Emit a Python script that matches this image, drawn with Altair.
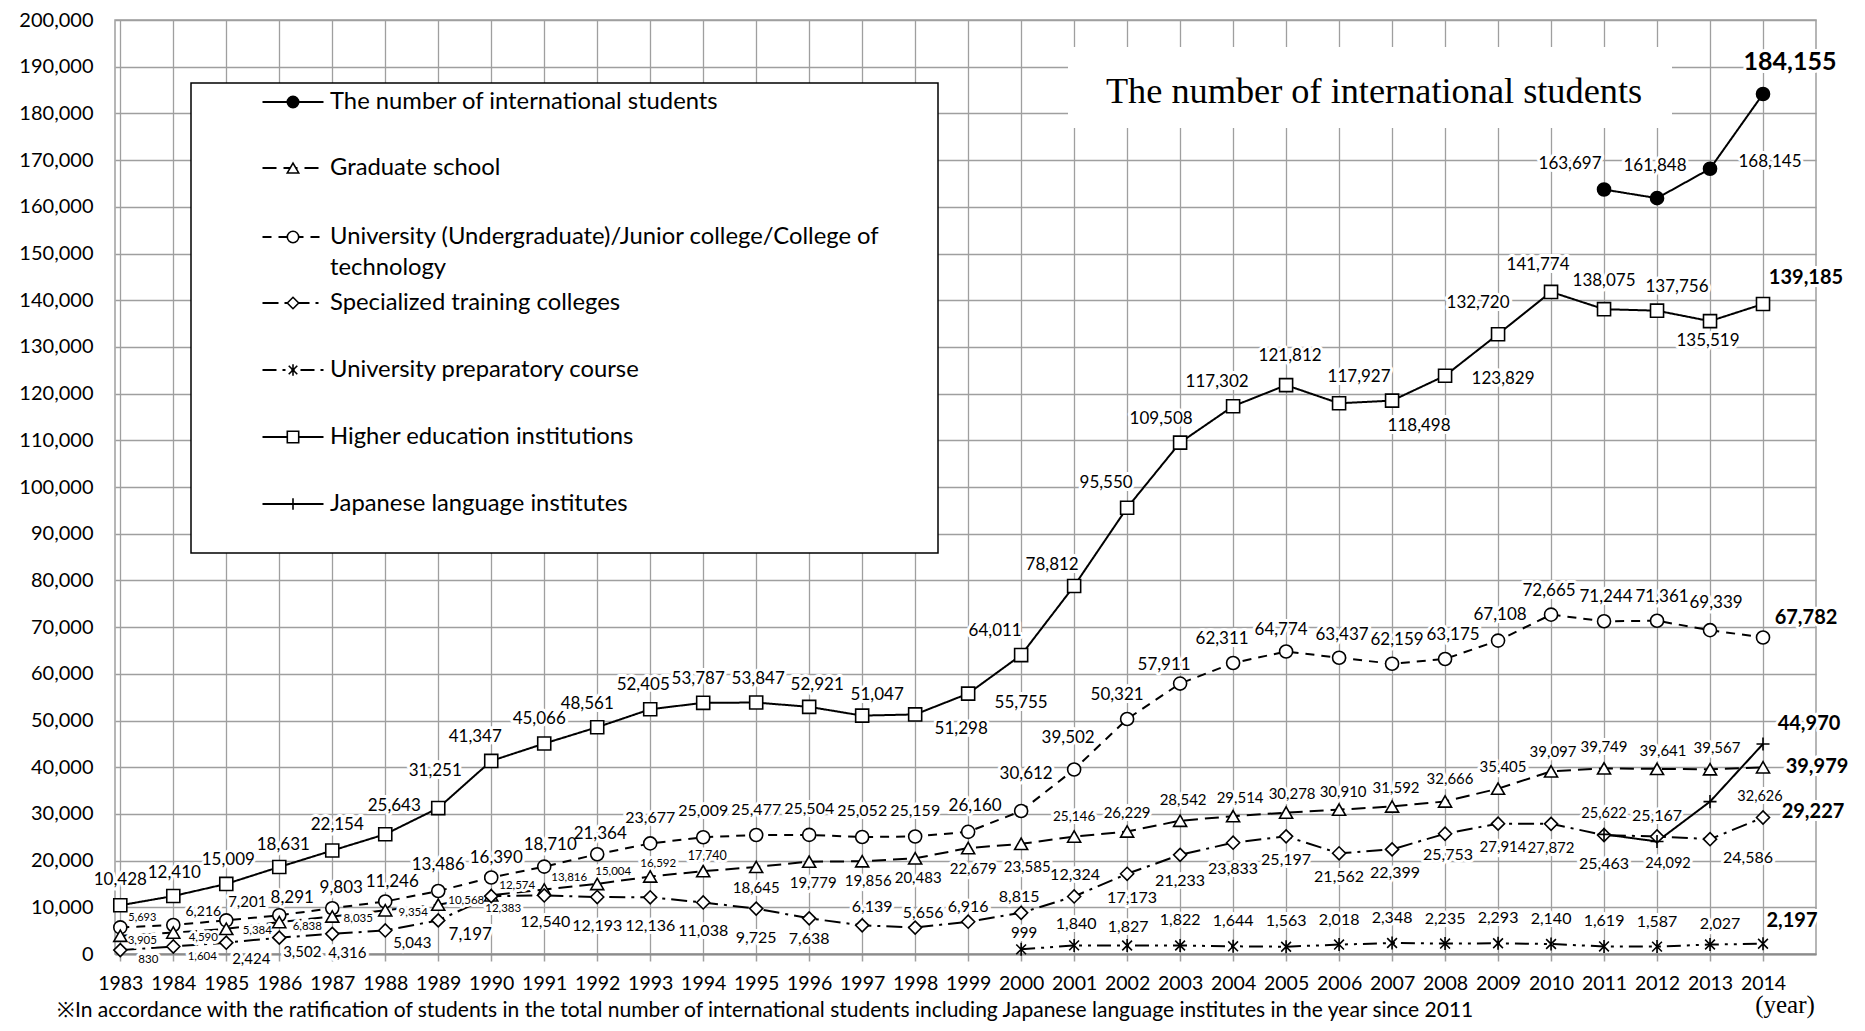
import altair as alt
import pandas as pd

# ---------------- data ----------------
years = list(range(1983, 2015))
higher_ed = [10428, 12410, 15009, 18631, 22154, 25643, 31251, 41347,
             45066, 48561, 52405, 53787, 53847, 52921, 51047, 51298,
             55755, 64011, 78812, 95550, 109508, 117302, 121812, 117927,
             118498, 123829, 132720, 141774, 138075, 137756, 135519, 139185]
undergrad = [5693, 6216, 7201, 8291, 9803, 11246, 13486, 16390,
             18710, 21364, 23677, 25009, 25477, 25504, 25052, 25159,
             26160, 30612, 39502, 50321, 57911, 62311, 64774, 63437,
             62159, 63175, 67108, 72665, 71244, 71361, 69339, 67782]
graduate = [3905, 4590, 5384, 6838, 8035, 9354, 10568, 12574,
            13816, 15004, 16592, 17740, 18645, 19779, 19856, 20483,
            22679, 23585, 25146, 26229, 28542, 29514, 30278, 30910,
            31592, 32666, 35405, 39097, 39749, 39641, 39567, 39979]
specialized = [830, 1604, 2424, 3502, 4316, 5043, 7197, 12383,
               12540, 12193, 12136, 11038, 9725, 7638, 6139, 5656,
               6916, 8815, 12324, 17173, 21233, 23833, 25197, 21562,
               22399, 25753, 27914, 27872, 25463, 25167, 24586, 29227]
prep_years = list(range(2000, 2015))
prep = [999, 1840, 1827, 1822, 1644, 1563, 2018, 2348, 2235, 2293,
        2140, 1619, 1587, 2027, 2197]
jp_years = [2011, 2012, 2013, 2014]
japanese = [25622, 24092, 32626, 44970]
total_years = [2011, 2012, 2013, 2014]
total = [163697, 161848, 168145, 184155]

S_TOTAL = "The number of international students"
S_GRAD = "Graduate school"
S_UNDER = "University (Undergraduate)/Junior college/College of technology"
S_SPEC = "Specialized training colleges"
S_PREP = "University preparatory course"
S_HIGHER = "Higher education institutions"
S_JAPAN = "Japanese language institutes"
SERIES = [S_TOTAL, S_GRAD, S_UNDER, S_SPEC, S_PREP, S_HIGHER, S_JAPAN]

# ---------------- label placement (pixel offsets) and label font sizes ----------------
higher_dx = [0, 1, 2, 4, 5, 9, -3, -16, -5, -10, -7, -5, 2, 8, 15, 46,
             53, -26, -22, -21, -19, -16, 4, 20, 27, 58, -20, -13, 0, 20, -2, 43]
higher_dy = [-25, -23, -24, -22, -26, -28, -37, -24, -25, -23, -24, -24, -24, -22, -21, 15,
             9, -24, -21, -25, -24, -24, -29, -26, 25, 3, -31, -27, -28, -24, 20, -26]
higher_fs = [17] * 31 + [20]

under_dx = [22, 30, 21, 13, 9, 7, 0, 5, 6, 3, 0, 0, 0, 0, 0, 0,
            7, 5, -6, -10, -16, -11, -5, 3, 5, 8, 2, -2, 2, 5, 6, 43]
under_dy = [-9, -13, -18, -17, -20, -19, -26, -19, -22, -20, -25, -26, -25, -26, -26, -26,
            -26, -37, -32, -24, -19, -24, -22, -23, -24, -24, -26, -24, -24, -24, -27, -19]
under_fs = [11, 14, 15, 17, 17, 17, 17, 17, 17, 17, 16, 16, 16, 16, 16, 16,
            17, 17, 17, 17, 17, 17, 17, 17, 17, 17, 17, 17, 17, 17, 17, 20]

grad_dx = [22, 30, 31, 28, 26, 28, 28, 26, 25, 16, 8, 4, 0, 4, 6, 3,
           5, 6, 0, 0, 3, 7, 6, 4, 4, 5, 5, 2, 0, 6, 7, 54]
grad_dy = [5, 5, 2, 5, 3, 3, -4, -9, -11, -12, -13, -15, 21, 21, 20, 20,
           21, 23, -20, -19, -21, -18, -19, -18, -18, -22, -22, -19, -21, -18, -21, 0]
grad_fs = [11.5] * 11 + [12.5] + [15] * 6 + [13.5] + [15] * 12 + [20]

spec_dx = [28, 29, 25, 23, 15, 27, 32, 12, 1, 0, 0, 0, 0, 0, 10, 8,
           0, -2, 1, 5, 0, 0, 0, 0, 3, 3, 5, 0, 0, 0, 38, 50]
spec_dy = [10, 10, 16, 14, 19, 13, 15, 13, 27, 29, 29, 29, 29, 21, -18, -15,
           -15, -16, -21, 24, 26, 26, 24, 24, 24, 21, 23, 24, 29, -20, 19, -6]
spec_fs = [11.5, 11.5, 15, 15, 15, 15, 17, 11.5, 16, 16, 16, 16, 16, 16, 16, 16,
           16, 16, 16, 16, 16, 16, 16, 16, 16, 16, 15, 15, 16, 16, 16, 20]

prep_dx = [3, 2, 1, 0, 0, 0, 0, 0, 0, 0, 0, 0, 0, 10, 29]
prep_dy = [-16, -21, -18, -25, -25, -26, -25, -25, -25, -25, -25, -25, -25, -21, -23]
prep_fs = [15] + [16] * 13 + [20]

jp_dx = [0, 11, 50, 46]
jp_dy = [-20, 23, -5, -20]
jp_fs = [14.5, 14.5, 14.5, 20]

total_dx = [-34, -2, 60, 27]
total_dy = [-26, -32, -7, -32]
total_fs = [17, 17, 17, 25]

series_defs = [
    (S_HIGHER, years, higher_ed, higher_dx, higher_dy, higher_fs),
    (S_UNDER, years, undergrad, under_dx, under_dy, under_fs),
    (S_GRAD, years, graduate, grad_dx, grad_dy, grad_fs),
    (S_SPEC, years, specialized, spec_dx, spec_dy, spec_fs),
    (S_PREP, prep_years, prep, prep_dx, prep_dy, prep_fs),
    (S_JAPAN, jp_years, japanese, jp_dx, jp_dy, jp_fs),
    (S_TOTAL, total_years, total, total_dx, total_dy, total_fs),
]

rows = []
for name, yrs, vals, dxs, dys, fss in series_defs:
    for yr, v, dx, dy, fs in zip(yrs, vals, dxs, dys, fss):
        rows.append({"series": name, "year": yr, "value": v,
                     "label": f"{v:,}", "dx": dx, "dy": dy, "fs": fs,
                     "bold": yr == 2014})
df = pd.DataFrame(rows)

# ---------------- styles ----------------
ASTER = "M-0.75,-0.75L0.75,0.75M-0.75,0.75L0.75,-0.75M0,-1L0,1"
PLUS = "M-1,0L1,0M0,-1L0,1"
shapes = ["circle", "triangle-up", "circle", "diamond", ASTER, "square", PLUS]
fills = ["black", "white", "white", "white", "white", "white", "white"]
dashes = [[1, 0], [14, 7], [9, 7], [16, 6, 3, 6], [14, 6, 3, 6, 3, 6], [1, 0], [1, 0]]
GRID = "#9f9f9f"
FONT = "Lato"

shape_scale = alt.Scale(domain=SERIES, range=shapes)
fill_scale = alt.Scale(domain=SERIES, range=fills)
dash_scale = alt.Scale(domain=SERIES, range=dashes)

X = alt.X("year:Q",
          scale=alt.Scale(domain=[1982.9, 2015], nice=False, zero=False),
          axis=alt.Axis(values=years, format="d", title=None,
                        labelFont=FONT, labelFontSize=19.5, labelColor="black",
                        labelPadding=13, labelFlush=False, labelOverlap=False,
                        tickSize=7, tickColor=GRID, tickWidth=1.5,
                        domainColor="#8c8c8c", domainWidth=2,
                        gridColor=GRID, gridWidth=1.3))
Y = alt.Y("value:Q",
          scale=alt.Scale(domain=[0, 200000], nice=False),
          axis=alt.Axis(values=list(range(0, 200001, 10000)), format=",d", title=None,
                        labelFont=FONT, labelFontSize=20, labelColor="black",
                        labelPadding=22, labelFlush=False, labelOverlap=False,
                        ticks=False, domain=False,
                        gridColor=GRID, gridWidth=1.3))

one = alt.Data(values=[{}])

# background boxes
title_box = alt.Chart(one).mark_rect(fill="white").encode(
    x=alt.value(953), x2=alt.value(1557), y=alt.value(27), y2=alt.value(108))
legend_box = alt.Chart(one).mark_rect(fill="white", stroke="black", strokeWidth=1.5).encode(
    x=alt.value(76), x2=alt.value(823), y=alt.value(63), y2=alt.value(533))

base = alt.Chart(df)
lines = base.mark_line(color="black", strokeWidth=2).encode(
    x=X, y=Y,
    strokeDash=alt.StrokeDash("series:N", scale=dash_scale, legend=None),
    detail="series:N")
points = base.mark_point(filled=True, size=170, stroke="black", strokeWidth=1.6, opacity=1).encode(
    x=X, y=Y,
    shape=alt.Shape("series:N", scale=shape_scale, legend=None),
    fill=alt.Fill("series:N", scale=fill_scale, legend=None))

lab_enc = dict(x=X, y=Y,
               text=alt.Text("label:N"),
               size=alt.Size("fs:Q", scale=None, legend=None))
DX = alt.ExprRef("datum.dx")
DY = alt.ExprRef("datum.dy")
norm = base.transform_filter("!datum.bold")
bold = base.transform_filter("datum.bold")
halo_n = norm.mark_text(font=FONT, fill="white", stroke="white", strokeWidth=6,
                        strokeJoin="round", dx=DX, dy=DY).encode(**lab_enc)
halo_b = bold.mark_text(font=FONT, fontWeight="bold", fill="white", stroke="white",
                        strokeWidth=6, strokeJoin="round", dx=DX, dy=DY).encode(**lab_enc)
text_n = norm.mark_text(font=FONT, color="black", dx=DX, dy=DY).encode(**lab_enc)
text_b = bold.mark_text(font=FONT, fontWeight="bold", color="black", dx=DX, dy=DY).encode(**lab_enc)

# manual legend
legend_rows = [
    (S_TOTAL, 82, [S_TOTAL]),
    (S_GRAD, 148, [S_GRAD]),
    (S_UNDER, 217, ["University (Undergraduate)/Junior college/College of", "technology"]),
    (S_SPEC, 283, [S_SPEC]),
    (S_PREP, 350, [S_PREP]),
    (S_HIGHER, 417, [S_HIGHER]),
    (S_JAPAN, 484, [S_JAPAN]),
]
legend_layers = []
for name, ry, text_lines in legend_rows:
    i = SERIES.index(name)
    seg_kwargs = dict(shape="M-1,0L1,0", size=61 * 61, filled=False, stroke="black",
                      strokeWidth=2, opacity=1)
    if dashes[i] != [1, 0]:
        seg_kwargs["strokeDash"] = dashes[i]
    legend_layers.append(alt.Chart(one).mark_point(**seg_kwargs).encode(
        x=alt.value(178), y=alt.value(ry)))
    legend_layers.append(alt.Chart(one).mark_point(
        shape=shapes[i], size=130, filled=True, fill=fills[i], stroke="black",
        strokeWidth=1.6, opacity=1).encode(x=alt.value(178), y=alt.value(ry)))
    for k, t in enumerate(text_lines):
        legend_layers.append(alt.Chart(one).mark_text(
            align="left", baseline="middle", font=FONT, fontSize=23.8, color="black").encode(
            x=alt.value(215), y=alt.value(ry + 31 * k), text=alt.value(t)))

title_text = alt.Chart(one).mark_text(
    font="Liberation Serif", fontSize=36.3, color="black", align="center", baseline="middle").encode(
    x=alt.value(1259), y=alt.value(72), text=alt.value("The number of  international students"))
year_text = alt.Chart(one).mark_text(
    font="Liberation Serif", fontSize=25, color="black",
    align="center", baseline="middle").encode(
    x=alt.value(1670), y=alt.value(985), text=alt.value("(year)"))
footnote = alt.Chart(one).mark_text(
    font=FONT, fontSize=21, color="black", align="left", baseline="alphabetic").encode(
    x=alt.value(-58), y=alt.value(997),
    text=alt.value("※In accordance with the ratification of students in the total number of "
                   "international students including Japanese language institutes in the year since 2011"))

chart = alt.layer(
    title_box, legend_box, lines, halo_n, halo_b, points, text_n, text_b,
    *legend_layers, title_text, year_text, footnote
).properties(
    width=1701, height=934,
    padding={"left": 107, "top": 12, "right": 41, "bottom": 69},
    autosize=alt.AutoSizeParams(type="none"),
    background="white",
).configure_view(stroke=GRID, strokeWidth=1.5)

chart.save("out.html", embed_options={"renderer": "svg", "actions": False})
